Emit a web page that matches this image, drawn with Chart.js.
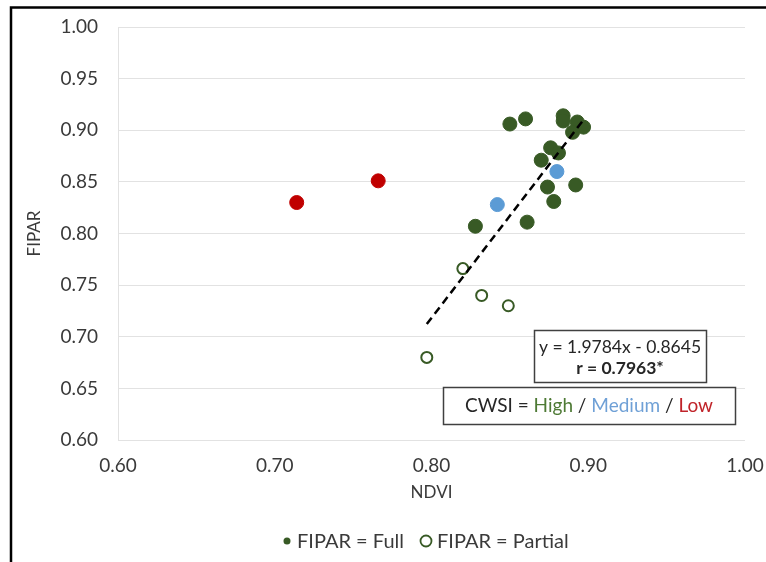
<!DOCTYPE html>
<html>
<head>
<meta charset="utf-8">
<title>FIPAR vs NDVI</title>
<script src="https://cdn.jsdelivr.net/npm/chart.js@4.4.1/dist/chart.umd.min.js"></script>
<style>
  html, body { margin: 0; padding: 0; background: #fff; }
  canvas { display: block; }
</style>
</head>
<body>
<canvas id="fiparChart" width="766" height="562"></canvas>
<script>
// CWSI = High, full canopy interception
const highNdvi  = [0.828, 0.861, 0.878, 0.874, 0.892, 0.870, 0.876, 0.881, 0.850, 0.860, 0.884, 0.884, 0.893, 0.897, 0.890];
const highFipar = [0.807, 0.811, 0.831, 0.845, 0.847, 0.871, 0.883, 0.878, 0.906, 0.911, 0.914, 0.909, 0.908, 0.903, 0.898];
// CWSI = Medium
const mediumNdvi  = [0.842, 0.880];
const mediumFipar = [0.828, 0.860];
// CWSI = Low
const lowNdvi  = [0.714, 0.766];
const lowFipar = [0.830, 0.851];
// partial interception (open markers)
const partialNdvi  = [0.820, 0.832, 0.849, 0.797];
const partialFipar = [0.766, 0.740, 0.730, 0.680];

// regression over the high/medium/partial points
const fitSlope = 1.9784;
const fitIntercept = -0.8645;
const fitR = 0.7963;

const ndviTicks  = [0.60, 0.70, 0.80, 0.90, 1.00];
const fiparTicks = [0.60, 0.65, 0.70, 0.75, 0.80, 0.85, 0.90, 0.95, 1.00];

const GREEN = '#385a25';
const BLUE = '#5b9bd5';
const RED = '#c00000';
const TEXT = '#3a3a3a';
const FONT = 'Lato, "Open Sans", sans-serif';

const toPoints = (xs, ys) => xs.map((x, i) => ({ x: x, y: ys[i] }));

const fitXs = [...highNdvi, ...mediumNdvi, ...partialNdvi];
const fitMin = Math.min(...fitXs);
const fitMax = Math.max(...fitXs);
const fitLine = [fitMin, fitMax].map(x => ({ x: x, y: fitSlope * x + fitIntercept }));

// boxes, legend and outer frame drawn on top of the plot
const chartDecor = {
    id: 'chartDecor',
    afterDraw(chart) {
        const ctx = chart.ctx;
        ctx.save();

        // outer frame (top and left edges)
        ctx.strokeStyle = '#000';
        ctx.lineWidth = 2.5;
        ctx.beginPath();
        ctx.moveTo(11, 562);
        ctx.lineTo(11, 7.5);
        ctx.lineTo(766, 7.5);
        ctx.stroke();

        // regression equation box
        ctx.fillStyle = '#fff';
        ctx.fillRect(534, 330, 172, 52);
        ctx.strokeStyle = '#404040';
        ctx.lineWidth = 1.5;
        ctx.strokeRect(534.5, 330.5, 172, 52);
        ctx.fillStyle = '#262626';
        ctx.textAlign = 'center';
        ctx.textBaseline = 'middle';
        ctx.font = '17.5px ' + FONT;
        ctx.fillText(`y = ${fitSlope}x - ${Math.abs(fitIntercept)}`, 620, 347);
        ctx.font = 'bold 17.5px ' + FONT;
        ctx.fillText(`r = ${fitR}*`, 620, 368);

        // CWSI colour key
        ctx.fillStyle = '#fff';
        ctx.fillRect(443, 387, 292, 37);
        ctx.strokeRect(443.5, 387.5, 292, 37);
        ctx.font = '19px ' + FONT;
        const parts = [
            ['CWSI = ', '#262626'], ['High', '#4e7a35'], [' / ', '#262626'],
            ['Medium', '#6fa0d6'], [' / ', '#262626'], ['Low', '#c0242a']
        ];
        const total = parts.reduce((s, p) => s + ctx.measureText(p[0]).width, 0);
        let x = 589 - total / 2;
        ctx.textAlign = 'left';
        parts.forEach(([txt, col]) => {
            ctx.fillStyle = col;
            ctx.fillText(txt, x, 406);
            x += ctx.measureText(txt).width;
        });

        // legend
        ctx.font = '20px ' + FONT;
        ctx.fillStyle = GREEN;
        ctx.beginPath();
        ctx.arc(287, 541, 3.5, 0, Math.PI * 2);
        ctx.fill();
        ctx.strokeStyle = GREEN;
        ctx.lineWidth = 1.8;
        ctx.beginPath();
        ctx.arc(426, 541, 5.5, 0, Math.PI * 2);
        ctx.stroke();
        ctx.fillStyle = TEXT;
        ctx.fillText('FIPAR = Full', 297, 542);
        ctx.fillText('FIPAR = Partial', 437, 542);

        ctx.restore();
    }
};

new Chart(document.getElementById('fiparChart'), {
    type: 'scatter',
    data: {
        datasets: [
            {
                type: 'line',
                label: 'Fit',
                data: fitLine,
                borderColor: '#000',
                borderWidth: 2.5,
                borderDash: [8, 5],
                pointRadius: 0,
                fill: false,
                order: 0
            },
            {
                label: 'High',
                data: toPoints(highNdvi, highFipar),
                backgroundColor: GREEN,
                borderColor: GREEN,
                borderWidth: 1,
                pointRadius: 7,
                order: 1
            },
            {
                label: 'Medium',
                data: toPoints(mediumNdvi, mediumFipar),
                backgroundColor: BLUE,
                borderColor: BLUE,
                borderWidth: 1,
                pointRadius: 7,
                order: 2
            },
            {
                label: 'Low',
                data: toPoints(lowNdvi, lowFipar),
                backgroundColor: RED,
                borderColor: RED,
                borderWidth: 1,
                pointRadius: 7,
                order: 3
            },
            {
                label: 'Partial',
                data: toPoints(partialNdvi, partialFipar),
                backgroundColor: '#fff',
                borderColor: GREEN,
                borderWidth: 2,
                pointRadius: 5.5,
                order: 4
            }
        ]
    },
    options: {
        responsive: false,
        animation: false,
        layout: { padding: { top: 27, right: 21, bottom: 32, left: 0 } },
        plugins: {
            legend: { display: false },
            tooltip: { enabled: false }
        },
        scales: {
            x: {
                min: 0.6,
                max: 1.0,
                afterBuildTicks: scale => { scale.ticks = ndviTicks.map(v => ({ value: v })); },
                afterFit: scale => {
                    scale.height = 90;
                    scale.paddingLeft = 0;
                    scale.paddingRight = 0;
                },
                grid: { display: false, drawTicks: false },
                border: { display: false },
                ticks: {
                    padding: 14,
                    color: TEXT,
                    font: { family: FONT, size: 19 },
                    callback: v => v.toFixed(2)
                },
                title: {
                    display: true,
                    text: 'NDVI',
                    color: TEXT,
                    font: { family: FONT, size: 17 },
                    padding: { top: 0, bottom: 27 }
                }
            },
            y: {
                min: 0.6,
                max: 1.0,
                afterBuildTicks: scale => { scale.ticks = fiparTicks.map(v => ({ value: v })); },
                afterFit: scale => {
                    scale.width = 118;
                    scale.paddingTop = 0;
                    scale.paddingBottom = 0;
                },
                grid: { color: '#e2e2e2', lineWidth: 1, drawTicks: false },
                border: { display: true, color: '#e2e2e2', width: 1 },
                ticks: {
                    padding: 20,
                    color: TEXT,
                    font: { family: FONT, size: 19 },
                    callback: v => v.toFixed(2)
                },
                title: {
                    display: true,
                    text: 'FIPAR',
                    color: TEXT,
                    font: { family: FONT, size: 17 },
                    padding: { top: 24, bottom: 0 }
                }
            }
        }
    },
    plugins: [chartDecor]
});
</script>
</body>
</html>
